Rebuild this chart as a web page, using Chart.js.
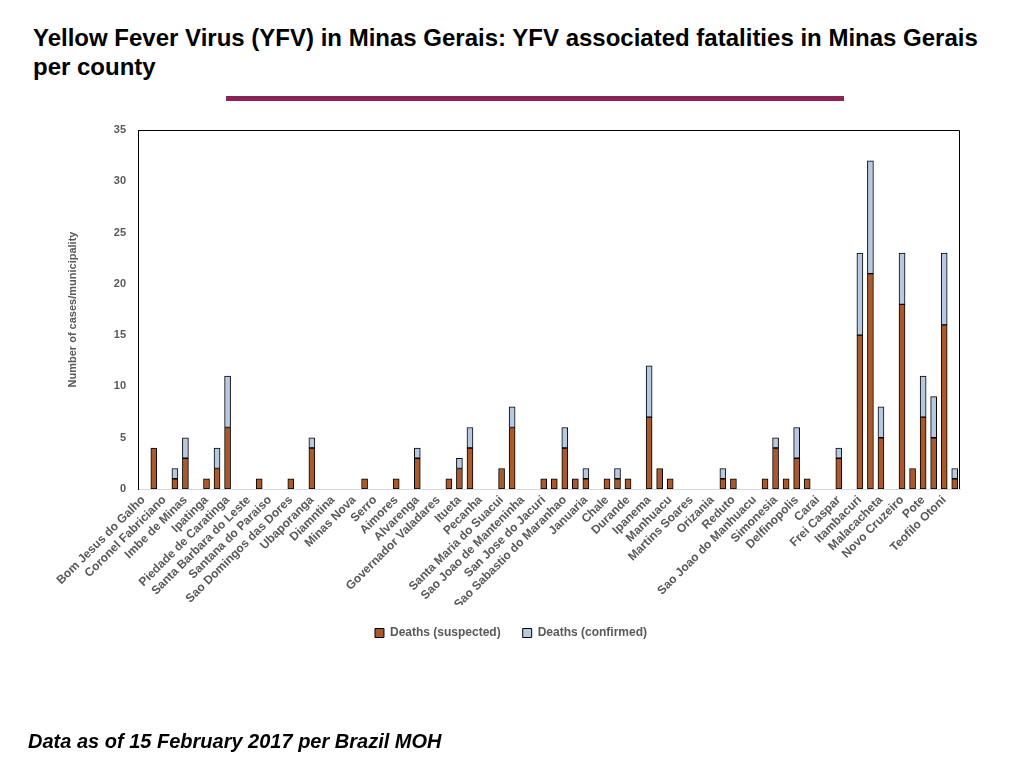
<!DOCTYPE html>
<html>
<head>
<meta charset="utf-8">
<script src="https://cdn.jsdelivr.net/npm/chart.js@4"></script>
<style>
  body { margin: 0; background: #fff; font-family: "Liberation Sans", Arial, sans-serif; }
  #wrap { position: relative; width: 1024px; height: 768px; overflow: hidden; }
  #title { position: absolute; left: 33px; top: 23px; font-size: 24px; font-weight: bold; line-height: 29px; color: #000; }
  #rule { position: absolute; left: 226px; top: 96px; width: 618px; height: 5px; background: #8a2456; }
  #note { position: absolute; left: 28px; top: 730px; font-size: 20px; font-weight: bold; font-style: italic; color: #000; }
  #chart { position: absolute; left: 0; top: 0; }
</style>
</head>
<body>
<div id="wrap">
  <div id="title">Yellow Fever Virus (YFV) in Minas Gerais: YFV associated fatalities in Minas Gerais<br>per county</div>
  <div id="rule"></div>
  <canvas id="chart" width="1024" height="768"></canvas>
  <div id="note">Data as of 15 February 2017 per Brazil MOH</div>
</div>
<script>
// Only every other county name is printed on the axis; the rest are blank
const counties = [
    "Bom Jesus do Galho", "", "Coronel Fabriciano", "", "Imbe de Minas", "", "Ipatinga", "",
    "Piedade de Caratinga", "", "Santa Barbara do Leste", "", "Santana do Paraiso", "",
    "Sao Domingos das Dores", "", "Ubaporanga", "", "Diamntina", "", "Minas Nova", "",
    "Serro", "", "Aimores", "", "Alvarenga", "", "Governador Valadares", "", "Itueta", "",
    "Pecanha", "", "Santa Maria do Suacui", "", "Sao Joao de Manteninha", "",
    "San Jose do Jacuri", "", "Sao Sabastio do Maranhao", "", "Januaria", "", "Chale", "",
    "Durande", "", "Ipanema", "", "Manhuacu", "", "Martins Soares", "", "Orizania", "",
    "Reduto", "", "Sao Joao do Manhuacu", "", "Simonesia", "", "Delfinopolis", "",
    "Carai", "", "Frei Caspar", "", "Itambacuri", "", "Malacacheta", "", "Novo Cruzeiro", "",
    "Pote", "", "Teofilo Otoni", ""
];

const deathsSuspected = [
    0, 4, 0, 1, 3, 0, 1, 2, 6, 0, 0, 1, 0, 0, 1, 0, 4, 0, 0, 0,
    0, 1, 0, 0, 1, 0, 3, 0, 0, 1, 2, 4, 0, 0, 2, 6, 0, 0, 1, 1,
    4, 1, 1, 0, 1, 1, 1, 0, 7, 2, 1, 0, 0, 0, 0, 1, 1, 0, 0, 1,
    4, 1, 3, 1, 0, 0, 3, 0, 15, 21, 5, 0, 18, 2, 7, 5, 16, 1
];

const deathsConfirmed = [
    0, 0, 0, 1, 2, 0, 0, 2, 5, 0, 0, 0, 0, 0, 0, 0, 1, 0, 0, 0,
    0, 0, 0, 0, 0, 0, 1, 0, 0, 0, 1, 2, 0, 0, 0, 2, 0, 0, 0, 0,
    2, 0, 1, 0, 0, 1, 0, 0, 5, 0, 0, 0, 0, 0, 0, 1, 0, 0, 0, 0,
    1, 0, 3, 0, 0, 0, 1, 0, 8, 11, 3, 0, 5, 0, 4, 4, 7, 1
];

const yTicks = [0, 5, 10, 15, 20, 25, 30, 35];

const labelGray = '#595959';
const fontFamily = '"Liberation Sans", Arial, sans-serif';
const smallFont = { family: fontFamily, size: 11, weight: 'bold' };
const labelFont = { family: fontFamily, size: 12, weight: 'bold' };

// zero heights would still draw a border line, so leave them out
const noZero = arr => arr.map(v => (v === 0 ? null : v));

// black frame on the left, top and right of the plot area
const frame = {
    id: 'frame',
    afterDraw(chart) {
        const { ctx, chartArea: a } = chart;
        ctx.save();
        ctx.strokeStyle = '#000';
        ctx.lineWidth = 1;
        ctx.beginPath();
        ctx.moveTo(a.left + 0.5, a.bottom);
        ctx.lineTo(a.left + 0.5, a.top + 0.5);
        ctx.lineTo(a.right - 0.5, a.top + 0.5);
        ctx.lineTo(a.right - 0.5, a.bottom);
        ctx.stroke();
        ctx.restore();
    }
};

const ctx = document.getElementById('chart').getContext('2d');
new Chart(ctx, {
    type: 'bar',
    data: {
        labels: counties,
        datasets: [{
            label: 'Deaths (suspected)',
            data: noZero(deathsSuspected),
            backgroundColor: '#a95a2c',
            borderColor: '#000',
            borderWidth: 1,
            borderSkipped: false
        }, {
            label: 'Deaths (confirmed)',
            data: noZero(deathsConfirmed),
            backgroundColor: '#b6c9e1',
            borderColor: '#000',
            borderWidth: 1,
            borderSkipped: false
        }]
    },
    options: {
        responsive: false,
        animation: false,
        layout: { padding: { top: 130, right: 64, bottom: 119, left: 62 } },
        datasets: { bar: { barThickness: 6 } },
        scales: {
            x: {
                stacked: true,
                grid: { display: false, drawTicks: false },
                border: { color: '#d9d9d9', width: 1 },
                ticks: {
                    autoSkip: false,
                    maxRotation: 45,
                    minRotation: 45,
                    padding: 4,
                    color: labelGray,
                    font: labelFont
                },
                afterFit(scale) { scale.height = 116; }
            },
            y: {
                stacked: true,
                min: 0,
                max: 35,
                afterBuildTicks(scale) { scale.ticks = yTicks.map(v => ({ value: v })); },
                grid: { display: false, drawTicks: false },
                border: { color: '#000', width: 1 },
                ticks: { padding: 12, color: labelGray, font: smallFont },
                title: {
                    display: true,
                    text: 'Number of cases/municipality',
                    color: labelGray,
                    font: smallFont
                },
                afterFit(scale) { scale.width = 76; }
            }
        },
        plugins: {
            legend: {
                position: 'bottom',
                labels: {
                    boxWidth: 9,
                    boxHeight: 9,
                    padding: 22,
                    color: labelGray,
                    font: labelFont
                }
            },
            tooltip: { enabled: false }
        }
    },
    plugins: [frame]
});
</script>
</body>
</html>
